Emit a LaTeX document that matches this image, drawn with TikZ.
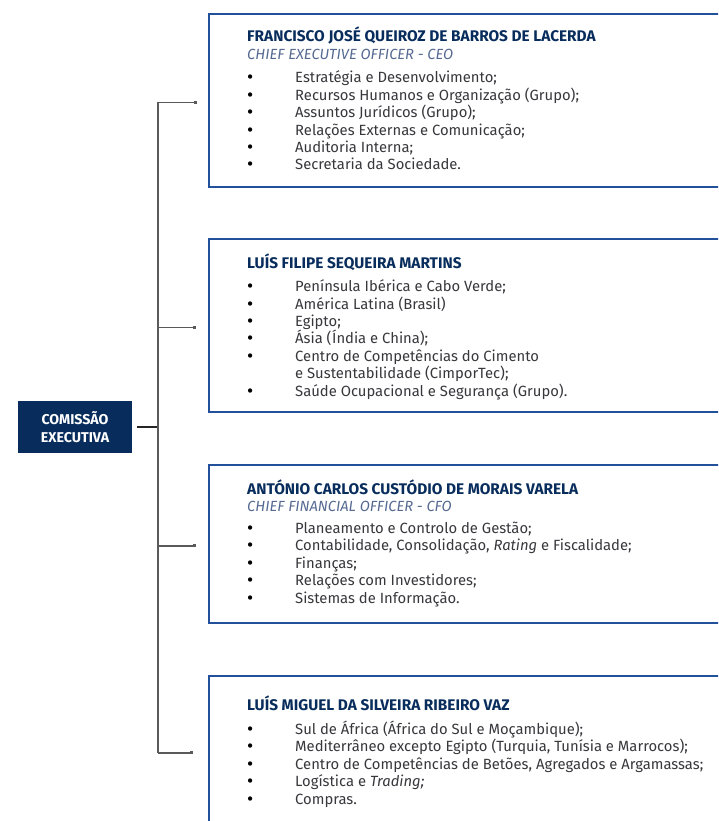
\documentclass[tikz,border=0pt]{standalone}
\usepackage{fontspec}
\setmainfont{Fira Sans}
\usetikzlibrary{calc,arrows.meta}
\definecolor{CimporNavy}{RGB}{8,45,92}
\definecolor{CimporBlue}{RGB}{35,80,155}
\definecolor{CimporSlate}{RGB}{85,105,145}
\definecolor{CimporText}{RGB}{55,55,60}
\definecolor{CimporLine}{RGB}{90,90,90}

\newcommand{\marca}{\makebox[48pt][l]{\raisebox{-1pt}{\textcolor{black}{\fontsize{19}{17.4}\selectfont\textbullet}}}}

\tikzset{
  caixa/.style={draw=CimporBlue, line width=1.6pt, minimum width=540pt, inner sep=0pt, anchor=north west},
  nome/.style={font=\fontsize{15.4}{17}\selectfont\bfseries, text=CimporNavy, inner sep=0pt, anchor=base west},
  cargo/.style={font=\fontsize{14.7}{17}\selectfont\itshape, text=CimporSlate, inner sep=0pt, anchor=base west},
  lista/.style={font=\fontsize{14.8}{17.4}\selectfont, text=CimporText, align=left, inner sep=0pt, anchor=base west},
  tronco/.style={draw=CimporLine, line width=1.5pt},
  ramo/.style={draw=CimporLine, line width=1.5pt, -{Square[length=3.2pt,width=3.2pt]}},
}

\begin{document}
\begin{tikzpicture}[x=1pt,y=-1pt]
    \useasboundingbox (0,0) rectangle (718,821);
    \clip (0,0) rectangle (718,821);

    % comissao executiva
    \node[fill=CimporNavy, text=white, font=\fontsize{14.2}{18}\selectfont\bfseries, align=center, minimum width=114pt, minimum height=52pt, inner sep=0pt] (comissao) at (75,427) {COMISSÃO\\EXECUTIVA};

    % CEO (base = ultima linha)
    \node[caixa, minimum height=173pt] (ceo) at (208,13) {};
    \node[nome] (ceo-nome) at (247,42) {FRANCISCO JOSÉ QUEIROZ DE BARROS DE LACERDA};
    \node[cargo] (ceo-cargo) at (247,60) {CHIEF EXECUTIVE OFFICER - CEO};
    \node[lista] (ceo-lista) at (247,170) {\marca Estratégia e Desenvolvimento;\\
      \marca Recursos Humanos e Organização (Grupo);\\
      \marca Assuntos Jurídicos (Grupo);\\
      \marca Relações Externas e Comunicação;\\
      \marca Auditoria Interna;\\
      \marca Secretaria da Sociedade.};

    % Martins
    \node[caixa, minimum height=173pt] (martins) at (208,238) {};
    \node[nome] (martins-nome) at (247,268) {LUÍS FILIPE SEQUEIRA MARTINS};
    \node[lista] (martins-lista) at (247,396) {\marca Península Ibérica e Cabo Verde;\\
      \marca América Latina (Brasil)\\
      \marca Egipto;\\
      \marca Ásia (Índia e China);\\
      \marca Centro de Competências do Cimento\\
      \hspace*{48pt}e Sustentabilidade (CimporTec);\\
      \marca Saúde Ocupacional e Segurança (Grupo).};

    % CFO
    \node[caixa, minimum height=158pt] (cfo) at (208,464) {};
    \node[nome] (cfo-nome) at (247,494) {ANTÓNIO CARLOS CUSTÓDIO DE MORAIS VARELA};
    \node[cargo] (cfo-cargo) at (247,511) {CHIEF FINANCIAL OFFICER - CFO};
    \node[lista] (cfo-lista) at (247,603) {\marca Planeamento e Controlo de Gestão;\\
      \marca Contabilidade, Consolidação, \emph{Rating} e Fiscalidade;\\
      \marca Finanças;\\
      \marca Relações com Investidores;\\
      \marca Sistemas de Informação.};

    % Vaz
    \node[caixa, minimum height=154pt] (vaz) at (208,675) {};
    \node[nome] (vaz-nome) at (247,710) {LUÍS MIGUEL DA SILVEIRA RIBEIRO VAZ};
    \node[lista] (vaz-lista) at (247,804) {\marca Sul de África (África do Sul e Moçambique);\\
      \marca Mediterrâneo excepto Egipto (Turquia, Tunísia e Marrocos);\\
      \marca Centro de Competências de Betões, Agregados e Argamassas;\\
      \marca Logística e \emph{Trading;}\\
      \marca Compras.};

    % ligacoes
    \coordinate (juncao) at ($(comissao.east)+(26,0)$);
    \coordinate (ponta-ceo) at ($(ceo.west)+(-11,2)$);
    \coordinate (ponta-martins) at ($(martins.west)+(-12,2)$);
    \coordinate (ponta-cfo) at ($(cfo.west)+(-12,2)$);
    \coordinate (ponta-vaz) at ($(vaz.west)+(-15,0)$);
    \draw[tronco, draw=black!85] ($(comissao.east)+(5,0)$) -- (juncao);
    \draw[tronco] (juncao |- ponta-ceo) -- (juncao |- ponta-vaz);
    \foreach \quem in {ceo,martins,cfo,vaz}
      \draw[ramo] (juncao |- ponta-\quem) -- (ponta-\quem);
\end{tikzpicture}
\end{document}
